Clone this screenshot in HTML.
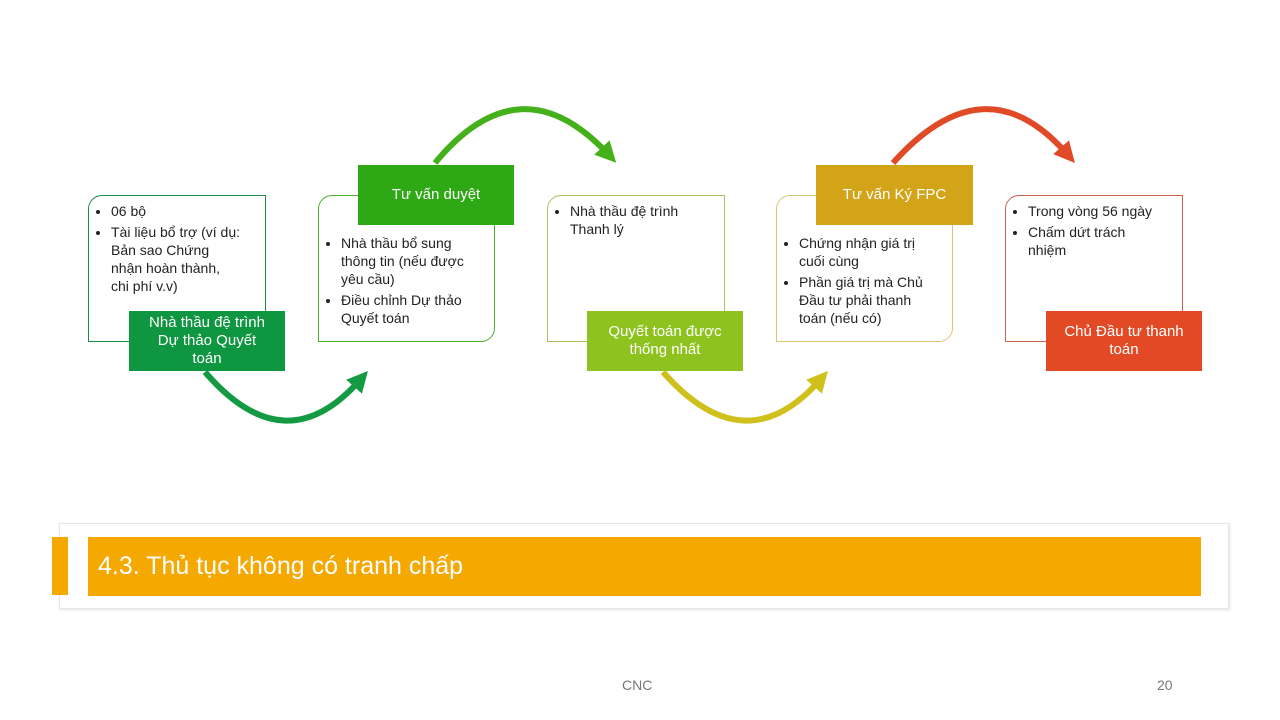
<!DOCTYPE html>
<html><head><meta charset="utf-8"><style>
body{margin:0;width:1280px;height:720px;background:#fff;position:relative;overflow:hidden;font-family:"Liberation Sans","DejaVu Sans",sans-serif}
.b{position:absolute;box-sizing:border-box;background:#fff;border:1px solid;font-size:14px;line-height:18px;color:#222;padding:6px 26px 0 8px}
.b ul{margin:0;padding:0 0 0 14px}
.b li{margin-bottom:3px}
.l{position:absolute;color:#fff;font-size:15px;line-height:18px;text-align:center;display:flex;align-items:center;justify-content:center;box-sizing:border-box;padding:0 12px}
</style></head><body>
<svg width="1280" height="720" style="position:absolute;left:0;top:0">
<defs>
<marker id="m1" markerWidth="3.5" markerHeight="3.5" refX="1.5" refY="1.75" orient="auto"><path d="M0,0 L3.5,1.75 L0,3.5 z" fill="#139a43"/></marker>
<marker id="m2" markerWidth="3.5" markerHeight="3.5" refX="1.5" refY="1.75" orient="auto"><path d="M0,0 L3.5,1.75 L0,3.5 z" fill="#44b01a"/></marker>
<marker id="m3" markerWidth="3.5" markerHeight="3.5" refX="1.5" refY="1.75" orient="auto"><path d="M0,0 L3.5,1.75 L0,3.5 z" fill="#cfc01b"/></marker>
<marker id="m4" markerWidth="3.5" markerHeight="3.5" refX="1.5" refY="1.75" orient="auto"><path d="M0,0 L3.5,1.75 L0,3.5 z" fill="#e04a27"/></marker>
</defs>
<path d="M205,372 Q285,465 360,380" stroke="#139a43" stroke-width="6" fill="none" marker-end="url(#m1)"/>
<path d="M435,163 Q520,60 608,154" stroke="#44b01a" stroke-width="6" fill="none" marker-end="url(#m2)"/>
<path d="M663,372 Q745,465 820,380" stroke="#cfc01b" stroke-width="6" fill="none" marker-end="url(#m3)"/>
<path d="M893,163 Q985,60 1067,154" stroke="#e04a27" stroke-width="6" fill="none" marker-end="url(#m4)"/>
</svg>

<div class="b" style="left:88px;top:195px;width:178px;height:147px;border-color:#1a8a45;border-radius:14px 0 0 0;padding-right:4px"><ul><li>06 bộ</li><li>Tài liệu bổ trợ (ví dụ:<br>Bản sao Chứng<br>nhận hoàn thành,<br>chi phí v.v)</li></ul></div>
<div class="l" style="left:129px;top:311px;width:156px;height:60px;background:#0f9640;padding:0 18px">Nhà thầu đệ trình Dự thảo Quyết toán</div>

<div class="b" style="left:318px;top:195px;width:177px;height:147px;border-color:#4cae2a;border-radius:14px 0 14px 0;padding-top:38px"><ul><li>Nhà thầu bổ sung thông tin (nếu được yêu cầu)</li><li>Điều chỉnh Dự thảo Quyết toán</li></ul></div>
<div class="l" style="left:358px;top:165px;width:156px;height:60px;background:#2fa815">Tư vấn duyệt</div>

<div class="b" style="left:547px;top:195px;width:178px;height:147px;border-color:#a8c35a;border-radius:14px 0 0 0"><ul><li>Nhà thầu đệ trình Thanh lý</li></ul></div>
<div class="l" style="left:587px;top:311px;width:156px;height:60px;background:#8dc21f">Quyết toán được thống nhất</div>

<div class="b" style="left:776px;top:195px;width:177px;height:147px;border-color:#d9c57a;border-radius:14px 0 14px 0;padding-top:38px"><ul><li>Chứng nhận giá trị cuối cùng</li><li>Phần giá trị mà Chủ Đầu tư phải thanh toán (nếu có)</li></ul></div>
<div class="l" style="left:816px;top:165px;width:157px;height:60px;background:#d4a418">Tư vấn Ký FPC</div>

<div class="b" style="left:1005px;top:195px;width:178px;height:147px;border-color:#c8604a;border-radius:14px 0 0 0"><ul><li>Trong vòng 56 ngày</li><li>Chấm dứt trách nhiệm</li></ul></div>
<div class="l" style="left:1046px;top:311px;width:156px;height:60px;background:#e24a26">Chủ Đầu tư thanh toán</div>

<div style="position:absolute;left:59px;top:523px;width:1170px;height:86px;box-sizing:border-box;border:1px solid #e6e6e6;box-shadow:1px 1px 3px rgba(0,0,0,0.12);background:#fff"></div>
<div style="position:absolute;left:52px;top:537px;width:16px;height:58px;background:#f5a800"></div>
<div style="position:absolute;left:88px;top:537px;width:1113px;height:59px;background:#f5a800;color:#fff;font-size:25px;line-height:59px;padding-left:10px;box-sizing:border-box">4.3. Thủ tục không có tranh chấp</div>

<div style="position:absolute;left:622px;top:677px;font-size:14px;color:#777">CNC</div>
<div style="position:absolute;left:1157px;top:677px;font-size:14px;color:#777">20</div>
</body></html>
